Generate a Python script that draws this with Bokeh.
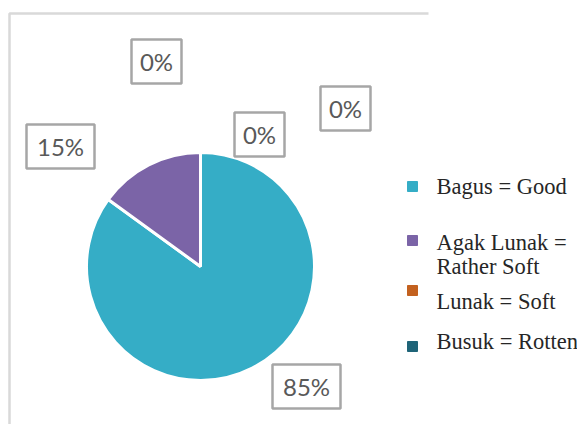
import math
from bokeh.plotting import figure
from bokeh.models import Range1d
from bokeh.core.properties import value
from bokeh.embed import file_html
from bokeh.resources import INLINE

# ---- data ----
categories = ["Bagus = Good", "Agak Lunak =\nRather Soft", "Lunak = Soft", "Busuk = Rotten"]
percent = [85, 15, 0, 0]
colors = ["#35ADC6", "#7B64A7", "#C3611F", "#1F6478"]
label_texts = ["85%", "15%", "0%", "0%", "0%"]

# ---- layout (screen pixel coordinates of the picture) ----
W, H = 577, 424
def fy(py):
    return H - py

p = figure(width=W, height=H, output_backend="svg", toolbar_location=None,
           x_range=Range1d(0, W), y_range=Range1d(0, H),
           min_border=0, outline_line_color=None)
p.axis.visible = False
p.grid.visible = False
p.background_fill_color = "white"
p.border_fill_color = "white"

# chart frame (top and left edges)
p.line(x=[9, 9, 428], y=[fy(440), fy(13), fy(13)], line_color="#D9D9D9", line_width=2.5)

# pie
cx, cy, r = 200, fy(266), 114
total = sum(percent)
cum = 0
for v, c in zip(percent, colors):
    if v > 0:
        a0 = math.pi / 2 - 2 * math.pi * cum / total
        a1 = math.pi / 2 - 2 * math.pi * (cum + v) / total
        p.wedge(x=cx, y=cy, radius=r, radius_units="screen", start_angle=a0, end_angle=a1,
                direction="clock", fill_color=c, line_color="white", line_width=3)
    cum += v

# data labels in boxes
label_pos = [(306, 386), (60, 146), (156, 61), (345, 108), (259, 134)]
for t, (lx, ly) in zip(label_texts, label_pos):
    bw = 68 if len(t) > 2 else 50
    p.rect(x=lx, y=fy(ly), width=bw, height=44, width_units="screen", height_units="screen",
           fill_color="white", line_color="#A6A6A6", line_width=2.5)
    p.text(x=[lx], y=[fy(ly)], text=[t], text_font=value("Lato"), text_font_size="24px",
           text_color="#595959", text_align="center", text_baseline="middle")

# legend
marker_y = [186, 240, 290, 346]
text_y = [186, 242, 301, 341]
for cat, c, my, ty in zip(categories, colors, marker_y, text_y):
    p.scatter(x=[412], y=[fy(my)], marker="square", size=10, fill_color=c, line_color=c)
    for i, line in enumerate(cat.split("\n")):
        p.text(x=[436], y=[fy(ty + 24 * i)], text=[line], text_font=value("Liberation Serif"),
               text_font_size="22.5px", text_color="#262626", text_align="left",
               text_baseline="middle")

open("out.html", "w").write(file_html(p, INLINE))
